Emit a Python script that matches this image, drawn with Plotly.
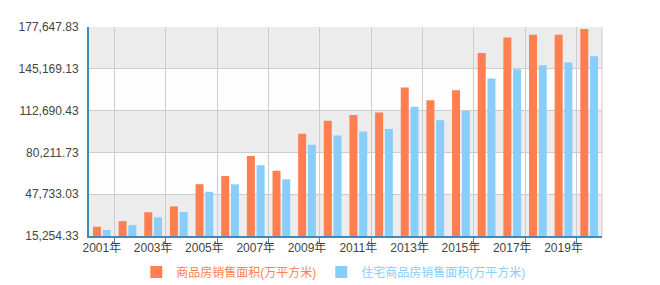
import plotly.graph_objects as go

years = [str(y) for y in range(2001, 2021)]
year_labels = [y + "年" for y in years]
total_area = [22412, 26808, 33718, 38232, 55486, 61857, 77355, 65970, 94755, 104765,
              109367, 111304, 130551, 120649, 128495, 157349, 169408, 171654, 171558, 176086]
resid_area = [19939, 23702, 29779, 33820, 49588, 55423, 70136, 59280, 86185, 93377,
              96528, 98468, 115723, 105188, 112412, 137540, 144789, 147929, 150144, 154878]
series_names = ["商品房销售面积(万平方米)", "住宅商品房销售面积(万平方米)"]
y_min, y_max = 15254.33, 177647.83
n_ticks = 6
y_ticks = [y_min + i * (y_max - y_min) / (n_ticks - 1) for i in range(n_ticks)]

c1, c2 = "#ff7f50", "#87cefa"
axis_c = "#4488bb"
font_fam = "Liberation Sans, Arial, Noto Sans CJK SC, sans-serif"

xs = list(range(len(years)))
fig = go.Figure()
fig.add_trace(go.Bar(x=xs, y=total_area, marker_color=c1, marker_line_width=0,
                     name=f'<span style="color:{c1}">{series_names[0]}</span>'))
fig.add_trace(go.Bar(x=xs, y=resid_area, marker_color=c2, marker_line_width=0,
                     name=f'<span style="color:{c2}">{series_names[1]}</span>'))

shapes = []
for i in range(n_ticks - 1):
    fill = "#ececec" if i % 2 == 0 else "#fdfdfd"
    shapes.append(dict(type="rect", xref="paper", yref="y", x0=0, x1=1,
                       y0=y_ticks[i], y1=y_ticks[i + 1], fillcolor=fill,
                       line_width=0, layer="below"))
shapes.append(dict(type="line", xref="paper", yref="paper", x0=1, x1=1, y0=0, y1=1,
                   line=dict(color="#cccccc", width=1), layer="below"))

fig.update_layout(
    width=660, height=285,
    margin=dict(l=89, r=58, t=27, b=49, autoexpand=False),
    paper_bgcolor="white", plot_bgcolor="white",
    font=dict(family=font_fam, size=12, color="#444"),
    barmode="group", bargap=0.24, bargroupgap=0.18,
    shapes=shapes,
    showlegend=True,
    legend=dict(orientation="h", xref="container", yref="container",
                x=0.505, xanchor="center", y=0.046, yanchor="middle",
                font=dict(size=12), itemwidth=30, traceorder="normal"),
    xaxis=dict(range=[-0.5, len(years) - 0.5], tickvals=xs[::2], ticktext=year_labels[::2],
               showgrid=False, ticks="", showline=True, linecolor=axis_c, linewidth=2,
               zeroline=False, tickfont=dict(size=12, color="#444"),
               minor=dict(tick0=0.5, dtick=2, ticks="outside", ticklen=5, tickcolor=axis_c,
                          tickwidth=1, showgrid=True, gridcolor="#cccccc", gridwidth=1)),
    yaxis=dict(range=[y_min, y_max], tickvals=y_ticks, tickformat=",.2f",
               showgrid=True, gridcolor="#cccccc", gridwidth=1, zeroline=False,
               showline=True, linecolor=axis_c, linewidth=2, ticks="",
               ticklabelstandoff=6, tickfont=dict(size=12, color="#444")),
)

fig.write_html("out.html")
